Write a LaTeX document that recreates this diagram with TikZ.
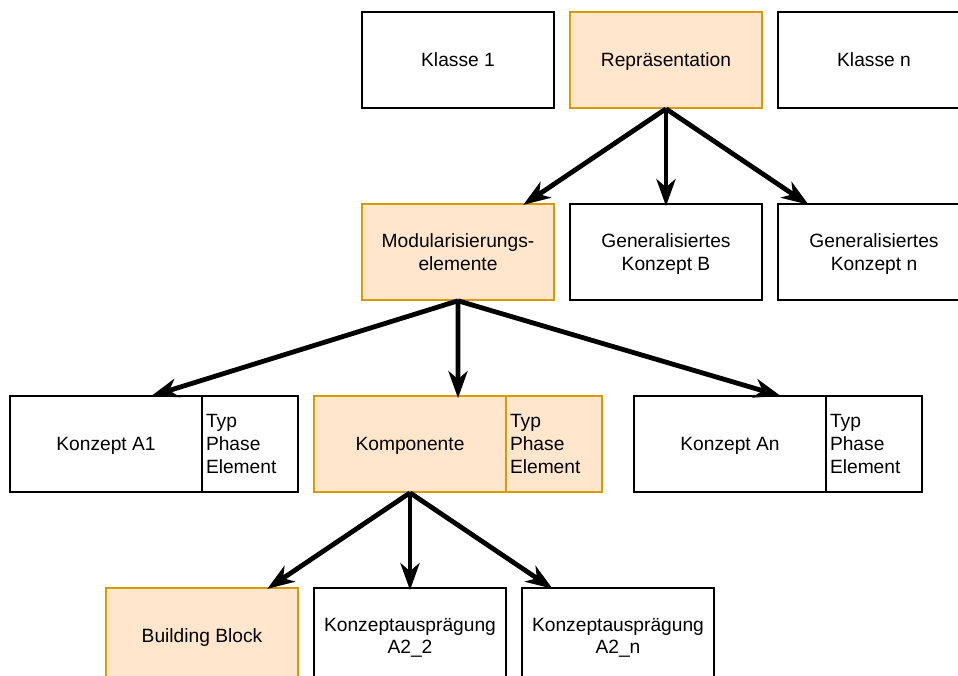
\documentclass[tikz,border=0pt]{standalone}
\usepackage{fontspec}
\setmainfont{Liberation Sans}
\usetikzlibrary{arrows.meta,calc}
\definecolor{hlfill}{HTML}{FFE6CC}
\definecolor{hldraw}{HTML}{D79B00}
\tikzset{
  frame/.style={draw=black, line width=1.6pt, fill=white, minimum height=96pt,
    font=\fontsize{19.2pt}{22.6pt}\selectfont},
  box/.style={frame, minimum width=192pt, inner sep=2pt, align=center, text depth=0pt},
  hl/.style={draw=hldraw, fill=hlfill},
  side/.style={frame, minimum width=96pt, text width=88pt, inner sep=4pt, align=left},
  link/.style={line width=4.8pt, shorten >=-3pt, -{Stealth[length=27pt,width=19pt,inset=8pt]}}
}
\begin{document}
\begin{tikzpicture}[x=1pt,y=-1pt]
\useasboundingbox (0,0) rectangle (958,676);
\clip (0,0) rectangle (958,676);
\fill[white] (0,0) rectangle (958,676);

% top row
\node[box] (k1) at (458,60) {Klasse 1};
\node[box,hl] (rep) at (666,60) {Repräsentation};
\node[box] (kn) at (874,60) {Klasse n};

% second row
\node[box,hl] (mod) at (458,252) {Modularisierungs-\\elemente};
\node[box] (gkb) at (666,252) {Generalisiertes\\Konzept B};
\node[box] (gkn) at (874,252) {Generalisiertes\\Konzept n};

% third row: concepts with attribute compartment
\node[box] (a1) at (106,444) {Konzept A1};
\node[side] (a1t) at (250,444) {Typ\\Phase\\Element};
\node[box,hl] (komp) at (410,444) {Komponente};
\node[side,hl] (kompt) at (554,444) {Typ\\Phase\\Element};
\node[box] (an) at (730,444) {Konzept An};
\node[side] (ant) at (874,444) {Typ\\Phase\\Element};

% fourth row
\node[box,hl] (bb) at (202,636) {Building Block};
\node[box] (a22) at (410,636) {Konzeptausprägung\\A2\_2};
\node[box] (a2n) at (618,636) {Konzeptausprägung\\A2\_n};

% connectors
\draw[link] (rep.south) -- ($(mod.north west)!0.85!(mod.north east)$);
\draw[link] (rep.south) -- (gkb.north);
\draw[link] (rep.south) -- ($(gkn.north west)!0.15!(gkn.north east)$);

\draw[link] (mod.south) -- ($(a1.north west)!0.5!(a1t.north east)$);
\draw[link] (mod.south) -- ($(komp.north west)!0.5!(kompt.north east)$);
\draw[link] (mod.south) -- ($(an.north west)!0.5!(ant.north east)$);

\draw[link] (komp.south) -- ($(bb.north west)!0.85!(bb.north east)$);
\draw[link] (komp.south) -- (a22.north);
\draw[link] (komp.south) -- ($(a2n.north west)!0.15!(a2n.north east)$);
\end{tikzpicture}
\end{document}
